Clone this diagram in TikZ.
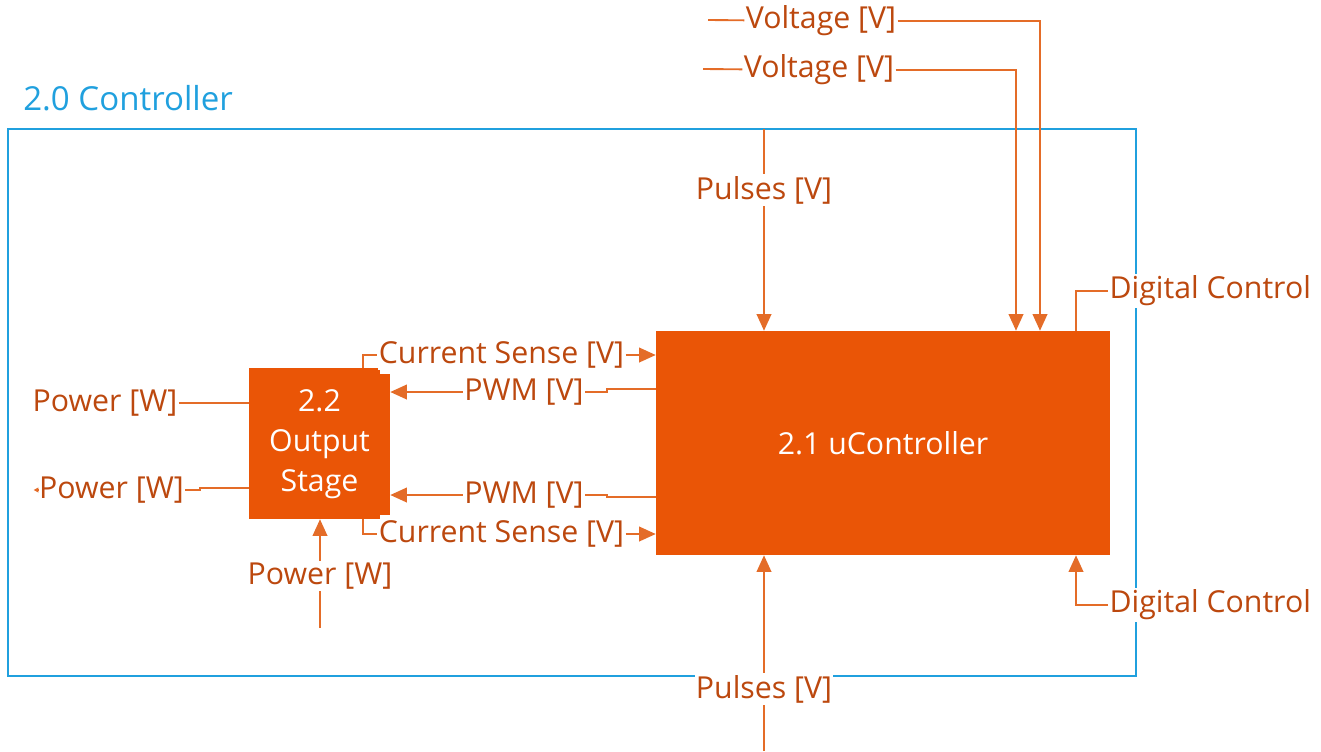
\documentclass[tikz,border=0pt]{standalone}
\usepackage{fontspec}
\setmainfont{Open Sans}
\usetikzlibrary{arrows.meta,positioning}

\definecolor{boxorange}{RGB}{234,85,6}
\definecolor{lineorange}{RGB}{228,108,40}
\definecolor{textorange}{RGB}{188,72,14}
\definecolor{ctrlblue}{RGB}{32,160,222}

\tikzset{
  block/.style={fill=boxorange, text=white, inner sep=0pt, align=center},
  sig/.style={draw=lineorange, line width=1.4pt},
  lbl/.style={text=textorange, fill=white, inner xsep=1pt, inner ysep=1.5pt},
}

\begin{document}
\begin{tikzpicture}[x=0.75pt, y=-0.75pt, >={Triangle[length=12.5pt,width=11pt]},
    font=\fontsize{22.7}{30}\selectfont]
    \useasboundingbox (0,0) rectangle (1321,751);

    % controller frame
    \draw[ctrlblue, line width=1.5pt] (8,129) rectangle (1136,676);
    \node[text=ctrlblue, inner sep=0pt, anchor=west, font=\fontsize{24.8}{30}\selectfont]
        (ctrl) at (23,98) {2.0 Controller};

    % blocks
    \node[block, minimum width=340.5pt, minimum height=168pt] (uc) at (883,443) {2.1 uController};
    \node[block, minimum width=98.25pt, minimum height=113.25pt] (osb) at (314.5,443.5) {};
    \node[block, minimum width=105.75pt, minimum height=105.75pt] (os) at (319.5,444.5) {2.2\\Output\\Stage};

    % helper columns
    \coordinate (x363) at (363,0);
    \coordinate (x1016) at (1016,0);
    \coordinate (x1040) at (1040,0);
    \coordinate (x1076) at (1076,0);

    % voltages from the top
    \node[lbl] (v1) at (821,21) {Voltage [V]};
    \node[lbl] (v2) at (819,70) {Voltage [V]};
    \coordinate (v1in) at (708,20);
    \coordinate (v2in) at (703,69);
    \draw[sig] (v1in) -- (v1);
    \draw[sig] (v2in) -- (v2);
    \draw[sig,->] (v1.east) -| (x1040 |- uc.north);
    \draw[sig,->] (v2.east) -| (x1016 |- uc.north);

    % pulses
    \node[lbl] (p1) at (764,190) {Pulses [V]};
    \node[lbl] (p2) at (764,689) {Pulses [V]};
    \coordinate (p1in) at (764,129);
    \coordinate (p2in) at (764,751);
    \draw[sig] (p1in) -- (p1);
    \draw[sig,->] (p1.south) -- (p1 |- uc.north);
    \draw[sig] (p2in) -- (p2);
    \draw[sig,->] (p2.north) -- (p2 |- uc.south);

    % digital control
    \node[lbl, anchor=west] (dc1) at (1108,291) {Digital Control};
    \node[lbl, anchor=west] (dc2) at (1108,605) {Digital Control};
    \draw[sig] (x1076 |- uc.north) |- (dc1.west);
    \draw[sig,->] (dc2.west) -| (x1076 |- uc.south);

    % current sense
    \node[lbl] (cs1) at (501.5,355) {Current Sense [V]};
    \node[lbl] (cs2) at (501.5,534) {Current Sense [V]};
    \draw[sig] (x363 |- osb.north) |- (cs1.west);
    \draw[sig,->] (cs1.east) -- (cs1.east -| uc.west);
    \draw[sig] (x363 |- osb.south) |- (cs2.west);
    \draw[sig,->] (cs2.east) -- (cs2.east -| uc.west);

    % pwm
    \node[lbl] (pwm1) at (524,392) {PWM [V]};
    \node[lbl] (pwm2) at (524,495) {PWM [V]};
    \coordinate (pwm1src) at (656,389);
    \coordinate (pwm2src) at (656,497);
    \draw[sig] (pwm1src) -- ++(-49,0) |- (pwm1.east);
    \draw[sig,->] (pwm1.west) -- (pwm1.west -| os.east);
    \draw[sig] (pwm2src) -- ++(-49,0) |- (pwm2.east);
    \draw[sig,->] (pwm2.west) -- (pwm2.west -| os.east);

    % power
    \node[lbl] (pw1) at (105,403) {Power [W]};
    \node[lbl] (pw2) at (111.5,490) {Power [W]};
    \node[lbl] (pw3) at (320,576) {Power [W]};
    \coordinate (pw2src) at (249,488);
    \coordinate (pw3in) at (320,628);
    \draw[sig] (pw1.east) -- (pw1.east -| osb.west);
    \draw[sig] (pw2src) -- ++(-49,0) |- (pw2.east);
    \draw[sig, -{Triangle[length=3.5pt,width=3.5pt]}] (pw2.west) -- ++(-4,0);
    \draw[sig] (pw3in) -- (pw3.south);
    \draw[sig,->] (pw3.north) -- (pw3.north |- osb.south);
\end{tikzpicture}
\end{document}
